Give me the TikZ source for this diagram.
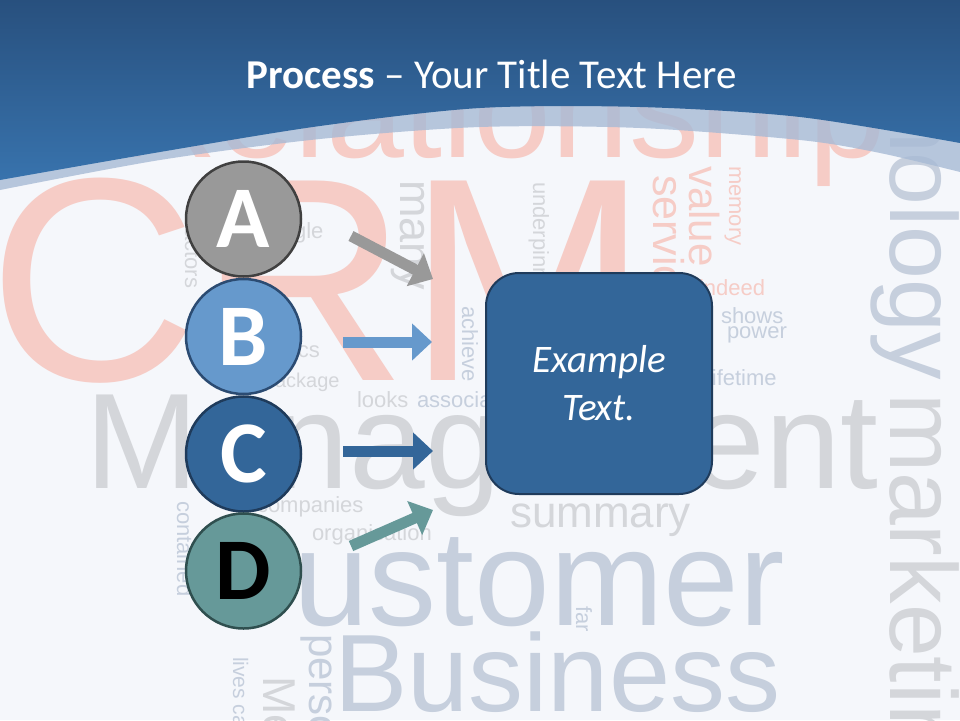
\documentclass[tikz,border=0pt]{standalone}
\usepackage{fontspec}
\setmainfont{Carlito}
\newfontfamily\cloudfont{Liberation Sans}
\usetikzlibrary{arrows.meta}
\definecolor{bgc}{HTML}{F5F7FB}
\definecolor{hdtop}{HTML}{28507E}
\definecolor{hdbot}{HTML}{3873AD}
\definecolor{bandc}{HTML}{A7BAD5}
\definecolor{pinkw}{HTML}{F6CCC6}
\definecolor{greyw}{HTML}{D4D6DA}
\definecolor{bluew}{HTML}{C6CFDD}
\definecolor{fillA}{HTML}{999999}
\definecolor{lineA}{HTML}{404040}
\definecolor{fillB}{HTML}{6699CC}
\definecolor{lineB}{HTML}{2B4B72}
\definecolor{fillC}{HTML}{336699}
\definecolor{lineC}{HTML}{1F3B5B}
\definecolor{fillD}{HTML}{669999}
\definecolor{lineD}{HTML}{2F4F4F}
\tikzset{
  word/.style={inner sep=0pt, outer sep=0pt, font={\cloudfont\fontsize{#1}{#1}\selectfont}},
  hw/.style={word=#1, anchor=base west},
  vw/.style={word=#1, anchor=base west, rotate=-90},
  vwe/.style={word=#1, anchor=base east, rotate=-90},
  letter/.style={circle, inner sep=0pt, minimum size=115pt, line width=2.5pt,
    font={\fontsize{88}{88}\selectfont\bfseries}},
  blockarrow/.style={line width=11pt, -{Triangle[length=20pt,width=36pt]}},
  exbox/.style={rectangle, rounded corners=33pt, minimum width=226pt, minimum height=221pt,
    fill=fillC, draw=lineC, line width=2pt, text=white, align=center, inner sep=0pt,
    font={\fontsize{39}{48}\selectfont\itshape}},
  titlef/.style={text=white, inner sep=0pt, font={\fontsize{41}{41}\selectfont}, anchor=base}
}
\begin{document}
\begin{tikzpicture}[x=1pt,y=-1pt]
\useasboundingbox (0,0) rectangle (960,720);
\begin{scope}
\clip (0,0) rectangle (960,720);
\fill[bgc] (0,0) rectangle (960,720);
% word cloud
\node[hw=290, text=pinkw] (wcrm) at (-11,380) {CRM};
\node[hw=140, text=pinkw] (wrel) at (116,157) {Relationship};
\node[hw=136, text=greyw] (wman) at (85,488) {Management};
\node[hw=136, text=bluew] (wcus) at (195,625) {Customer};
\node[hw=110, text=bluew] (wbus) at (334,711) {Business};
\node[hw=44, text=greyw] (wsum) at (510,527) {summary};
\node[hw=22, text=bluew] (wsho) at (721,323) {shows};
\node[hw=22, text=bluew] (wpow) at (727,338) {power};
\node[hw=22, text=pinkw] (wind) at (699,295) {indeed};
\node[hw=22, text=bluew] (wlif) at (707,385) {lifetime};
\node[hw=22, text=greyw] (wloo) at (357,407) {looks};
\node[hw=22, text=bluew] (wass) at (417,407) {associated};
\node[hw=22, text=greyw] (wcom) at (257,512) {companies};
\node[hw=22, text=greyw] (worg) at (312,540) {organisation};
\node[hw=22, text=greyw] (wsin) at (266,238) {single};
\node[hw=22, text=greyw] (wmet) at (249,357) {metrics};
\node[hw=20, text=greyw] (wpac) at (264,387) {package};
\node[vw=45, text=greyw] (wmany) at (400,180) {many};
\node[vw=22, text=greyw] (wund) at (533,182) {underpinning};
\node[vw=43, text=pinkw] (wser) at (653,175) {service};
\node[vw=42, text=pinkw] (wval) at (689,166) {value};
\node[vw=22, text=pinkw] (wmem) at (729,166) {memory};
\node[vw=22, text=greyw] (wfac) at (185,222) {factors};
\node[vw=22, text=bluew] (wach) at (462,306) {achieve};
\node[vw=22, text=bluew] (wcon) at (177,501) {contained};
\node[vwe=95, text=bluew] (wtec) at (890,380) {technology};
\node[vw=95, text=greyw] (wmar) at (890,393) {marketing};
\node[vw=42, text=bluew] (wper) at (309,634) {personal};
\node[vw=46, text=greyw] (wmea) at (263,676) {Measure};
\node[vw=21, text=bluew] (wliv) at (233,657) {lives can};
\node[vw=22, text=bluew] (wfar) at (576,606) {far};
% header
\fill[bandc, opacity=0.8] (0,0) -- (960,0) -- plot[smooth] coordinates
  {(960,172) (880,153) (800,140) (640,128) (480,127) (320,139) (160,160) (0,190)} -- cycle;
\shade[top color=hdtop, bottom color=hdbot] (0,0) -- (960,0) -- plot[smooth] coordinates
  {(960,143) (800,117) (640,107) (480,108) (320,126) (160,152) (0,180)} -- cycle;
\end{scope}
\node[titlef] (title) at (492,88) {\textbf{Process} – Your Title Text Here};
% circles
\node[letter, fill=fillA, draw=lineA, text=white] (A) at (243.5,219) {A};
\node[letter, fill=fillB, draw=lineB, text=white] (B) at (243.5,336.5) {B};
\node[letter, fill=fillC, draw=lineC, text=white] (C) at (243.5,454) {C};
\node[letter, fill=fillD, draw=lineD, text=black] (D) at (243.5,571) {D};
% arrows
\coordinate (a1) at (351,236); \coordinate (a2) at (433,279);
\coordinate (b1) at (343,342); \coordinate (b2) at (432,342);
\coordinate (c1) at (343,451); \coordinate (c2) at (433,451);
\coordinate (d1) at (351,546); \coordinate (d2) at (433,510);
\draw[blockarrow, draw=fillA] (a1) -- (a2);
\draw[blockarrow, draw=fillB] (b1) -- (b2);
\draw[blockarrow, draw=fillC] (c1) -- (c2);
\draw[blockarrow, draw=fillD] (d1) -- (d2);
% box
\node[exbox] (ex) at (599,383.5) {Example\\Text.};
\end{tikzpicture}
\end{document}
